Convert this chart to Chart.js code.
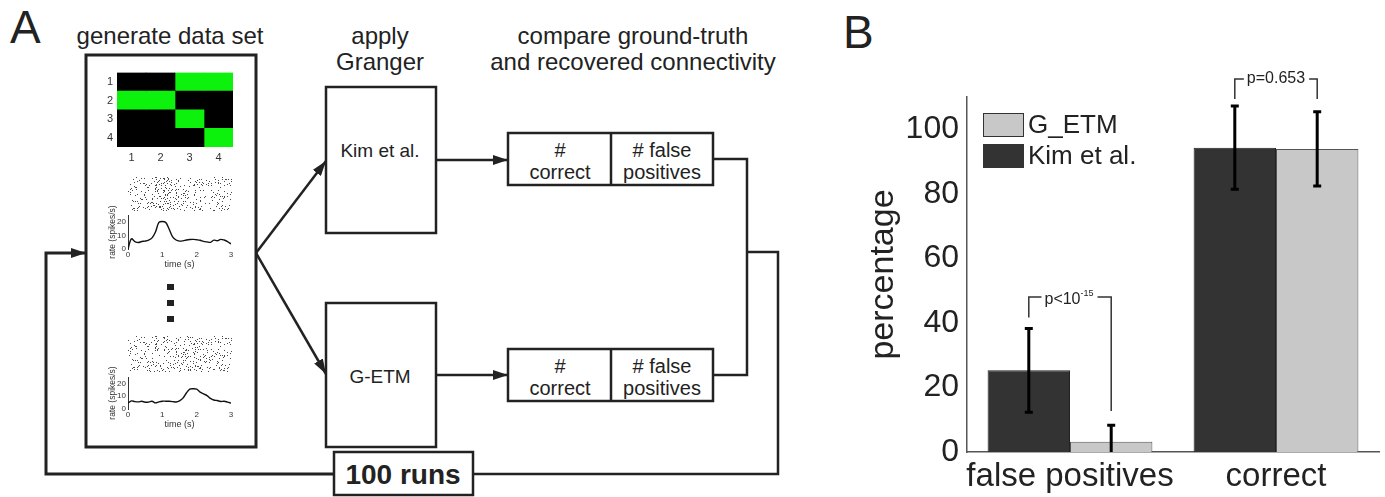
<!DOCTYPE html>
<html>
<head>
<meta charset="utf-8">
<script src="https://cdn.jsdelivr.net/npm/chart.js@4"></script>
<style>
  body { margin: 0; background: #fff; }
  #fig { position: relative; width: 1385px; height: 497px; background: #fff; overflow: hidden; font-family: "Liberation Sans", Arial, sans-serif; }
  #fig svg, #fig canvas { position: absolute; }
  .panel { position: absolute; font-size: 46px; color: #222; line-height: 1; }
</style>
</head>
<body>
<div id="fig">
  <svg width="840" height="497" viewBox="0 0 840 497" style="left:0;top:0" font-family="Liberation Sans, Arial, sans-serif" fill="#222">
    <defs>
      <marker id="ah" markerWidth="15" markerHeight="10" refX="15" refY="5" orient="auto" markerUnits="userSpaceOnUse">
        <path d="M0,0 L15,5 L0,10 z" fill="#222"/>
      </marker>
    </defs>
    <text x="10" y="43" font-size="46">A</text>
    <text x="170" y="44" font-size="24" text-anchor="middle">generate data set</text>
    <text x="380" y="44" font-size="24" text-anchor="middle">apply</text>
    <text x="380" y="70" font-size="24" text-anchor="middle">Granger</text>
    <text x="633" y="44" font-size="24" text-anchor="middle">compare ground-truth</text>
    <text x="633" y="70" font-size="24" text-anchor="middle">and recovered connectivity</text>

    <g fill="none" stroke="#222">
      <rect x="86" y="55" width="170" height="392" stroke-width="3"/>
      <rect x="326" y="87" width="110" height="146" stroke-width="2.5"/>
      <rect x="326" y="303" width="110" height="144" stroke-width="2.5"/>
      <rect x="508" y="133" width="205" height="52" stroke-width="2.5"/>
      <line x1="611" y1="133" x2="611" y2="185" stroke-width="2.5"/>
      <rect x="508" y="349" width="205" height="52" stroke-width="2.5"/>
      <line x1="611" y1="349" x2="611" y2="401" stroke-width="2.5"/>
      <line x1="256" y1="253" x2="326" y2="161" stroke-width="2.5" marker-end="url(#ah)"/>
      <line x1="256" y1="253" x2="326" y2="374" stroke-width="2.5" marker-end="url(#ah)"/>
      <line x1="436" y1="160" x2="508" y2="160" stroke-width="2.5" marker-end="url(#ah)"/>
      <line x1="436" y1="375" x2="508" y2="375" stroke-width="2.5" marker-end="url(#ah)"/>
      <polyline points="713,159 747,159 747,375 713,375" stroke-width="2.5"/>
      <polyline points="747,252 778,252 778,474 473,474" stroke-width="2.5"/>
      <polyline points="334,474 46,474 46,253 86,253" stroke-width="3" marker-end="url(#ah)"/>
      <rect x="334" y="452" width="139" height="43" stroke-width="2.5" fill="#fff"/>
    </g>
    <text x="380" y="157" font-size="19" text-anchor="middle">Kim et al.</text>
    <text x="380" y="383" font-size="19" text-anchor="middle">G-ETM</text>
    <g font-size="20" text-anchor="middle">
      <text x="560" y="157">#</text>
      <text x="560" y="179">correct</text>
      <text x="662" y="157"># false</text>
      <text x="662" y="179">positives</text>
      <text x="560" y="373">#</text>
      <text x="560" y="395">correct</text>
      <text x="662" y="373"># false</text>
      <text x="662" y="395">positives</text>
    </g>
    <text x="403" y="484" font-size="28" font-weight="bold" text-anchor="middle">100 runs</text>
    <rect x="167" y="284" width="7" height="6" fill="#222"/>
    <rect x="167" y="300" width="7" height="6" fill="#222"/>
    <rect x="167" y="316" width="7" height="6" fill="#222"/>
  </svg>

  <canvas id="matrix" width="145" height="108" style="left:98px;top:62px"></canvas>
  <canvas id="raster1" width="104" height="35" style="left:128px;top:177px"></canvas>
  <canvas id="rate1" width="140" height="75" style="left:100px;top:205px"></canvas>
  <canvas id="raster2" width="104" height="36" style="left:128px;top:336px"></canvas>
  <canvas id="rate2" width="140" height="75" style="left:100px;top:367px"></canvas>

  <div class="panel" style="left:843px;top:9px">B</div>
  <canvas id="chart" width="545" height="497" style="left:840px;top:0"></canvas>
</div>

<script>
// ---- panel B data ----
const categories = ['false positives', 'correct'];
const kimValues = [25.3, 94.3];
const getmValues = [3.2, 93.9];
const kimErr = [13.0, 12.9];
const getmErr = [5.1, 11.5];
const pctTicks = [0, 20, 40, 60, 80, 100];
// significance brackets: y of bar, bottom of left leg, bottom of right leg
const sigLabels = ['p<10', 'p=0.653'];
const sigSup = ['-15', ''];
const sigTop = [48, 115.6];
const sigLeftLeg = [41.7, 109.4];
const sigRightLeg = [12.7, 109.4];

// ---- panel A data ----
const connRows = ['1', '2', '3', '4'];
const connCols = [1, 2, 3, 4];
const connMatrix = [
  [0, 0, 1, 1],
  [1, 1, 0, 0],
  [0, 0, 1, 0],
  [0, 0, 0, 1]
];
const rateTime = [0, 0.1, 0.2, 0.3, 0.4, 0.5, 0.6, 0.7, 0.8, 0.9, 1.0, 1.1, 1.2, 1.3, 1.4, 1.5,
  1.6, 1.7, 1.8, 1.9, 2.0, 2.1, 2.2, 2.3, 2.4, 2.5, 2.6, 2.7, 2.8, 2.9, 3.0];
const rate1 = [0, 7.5, 5.5, 4.8, 5.5, 5.8, 6.5, 8.2, 12.5, 19.5, 20.2, 19.5, 14.5, 9, 6.6, 5.8,
  6, 6.6, 7, 7.1, 6.8, 6.4, 5.6, 5.2, 4.9, 6.5, 6.1, 7.1, 6.6, 5.5, 3.7];
const rate2 = [4.6, 6.3, 5.8, 5.6, 6, 5.3, 5.4, 6, 4.8, 5.6, 6.1, 6.1, 6, 5.8, 5.5, 6.4,
  8.5, 12.5, 15.5, 15.8, 15.5, 13.2, 11.8, 10.5, 8.3, 7, 6.6, 5.9, 6.1, 5.4, 4.6];
const rateTicks = [0, 10, 20];
const timeTicks = [0, 1, 2, 3];

const FONT = '"Liberation Sans", Arial, sans-serif';
Chart.defaults.font.family = FONT;
Chart.defaults.color = '#222';
Chart.defaults.animation = false;

// ---- connectivity matrix (floating horizontal bars, one per cell) ----
new Chart(document.getElementById('matrix'), {
  type: 'bar',
  data: {
    labels: connRows,
    datasets: connCols.map((c, j) => ({
      data: connRows.map(() => [c - 0.5, c + 0.5]),
      backgroundColor: connMatrix.map(row => row[j] ? '#0cf20c' : '#000'),
      borderWidth: 0,
      barPercentage: 1,
      categoryPercentage: 1,
      grouped: false
    }))
  },
  options: {
    indexAxis: 'y',
    responsive: false,
    layout: { padding: { top: 9, right: 10, left: 0, bottom: 0 } },
    plugins: { legend: { display: false }, tooltip: { enabled: false } },
    scales: {
      x: {
        type: 'linear', min: 0.5, max: 4.5,
        afterBuildTicks: s => { s.ticks = connCols.map(v => ({ value: v })); },
        ticks: { font: { size: 11 }, color: '#333', padding: 4, autoSkip: false, maxRotation: 0 },
        grid: { display: false, drawTicks: false }, border: { display: false },
        afterFit: s => { s.height = 23; }
      },
      y: {
        ticks: { font: { size: 11 }, color: '#333', padding: 4 },
        grid: { display: false, drawTicks: false }, border: { display: false },
        afterFit: s => { s.width = 19; }
      }
    }
  }
});

// ---- raster texture (spike dots), denser where the rate is higher ----
function cellHash(i, j) {
  let h = Math.imul(i + 1, 374761393) + Math.imul(j + 7, 668265263);
  h = Math.imul(h ^ (h >>> 13), 1274126177);
  h ^= h >>> 16;
  return h >>> 0;
}
function drawRaster(id, rates) {
  const cv = document.getElementById(id);
  const ctx = cv.getContext('2d');
  ctx.fillStyle = '#4a4a4a';
  const cols = Math.floor(cv.width / 2), rows = Math.floor(cv.height / 2);
  for (let i = 0; i < cols; i++) {
    const t = i / (cols - 1) * 3;
    const r = rates[Math.round(t * 10)];
    const k = Math.round(16 + r * 2.6);
    for (let j = 0; j < rows; j++) {
      const h = cellHash(i, j);
      if (h % 100 < k) {
        ctx.fillRect(i * 2 + ((h >>> 8) & 1), j * 2 + ((h >>> 9) & 1), 1, 1);
      }
    }
  }
}
drawRaster('raster1', rate1);
drawRaster('raster2', rate2);

// ---- firing-rate insets ----
function rateChart(id, values, plotH) {
  return new Chart(document.getElementById(id), {
    type: 'line',
    data: {
      datasets: [{
        data: rateTime.map((t, i) => ({ x: t, y: values[i] })),
        borderColor: '#111', borderWidth: 1.4, pointRadius: 0, tension: 0.35
      }]
    },
    options: {
      responsive: false,
      layout: { padding: { top: 10, right: 9, left: 0, bottom: 75 - 10 - plotH - 20 } },
      plugins: { legend: { display: false }, tooltip: { enabled: false } },
      scales: {
        x: {
          type: 'linear', min: 0, max: 3,
          afterBuildTicks: s => { s.ticks = timeTicks.map(v => ({ value: v })); },
          ticks: { font: { size: 8, lineHeight: 1 }, color: '#333', padding: 2, autoSkip: false, maxRotation: 0 },
          title: { display: true, text: 'time (s)', font: { size: 9, lineHeight: 1 }, color: '#333', padding: 0 },
          grid: { display: false, drawTicks: false }, border: { display: false },
          afterFit: s => { s.height = 20; }
        },
        y: {
          min: 0, max: 25,
          afterBuildTicks: s => { s.ticks = rateTicks.map(v => ({ value: v })); },
          ticks: { font: { size: 8, lineHeight: 1 }, color: '#333', padding: 2, autoSkip: false },
          title: { display: true, text: 'rate (spikes/s)', font: { size: 8.5, lineHeight: 1 }, color: '#333', padding: { top: 8, bottom: 0 } },
          grid: { display: false, drawTicks: false },
          border: { display: true, color: '#333', width: 1 },
          afterFit: s => { s.width = 28; }
        }
      }
    }
  });
}
rateChart('rate1', rate1, 34);
rateChart('rate2', rate2, 32);

// ---- panel B: error bars, brackets and legend ----
const extras = {
  id: 'extras',
  afterDatasetsDraw(chart) {
    const ctx = chart.ctx;
    const y = chart.scales.y;
    const area = chart.chartArea;
    const errs = [kimErr, getmErr];

    // error bars
    ctx.save();
    ctx.beginPath();
    ctx.rect(area.left, area.top - 2, area.right - area.left, area.bottom - area.top + 2);
    ctx.clip();
    ctx.strokeStyle = '#000';
    ctx.lineWidth = 3;
    chart.data.datasets.forEach((ds, d) => {
      chart.getDatasetMeta(d).data.forEach((bar, i) => {
        const v = ds.data[i], e = errs[d][i];
        const yHi = y.getPixelForValue(v + e), yLo = y.getPixelForValue(v - e);
        ctx.beginPath();
        ctx.moveTo(bar.x, yHi); ctx.lineTo(bar.x, yLo);
        ctx.moveTo(bar.x - 4, yHi); ctx.lineTo(bar.x + 4, yHi);
        ctx.moveTo(bar.x - 4, yLo); ctx.lineTo(bar.x + 4, yLo);
        ctx.stroke();
      });
    });
    ctx.restore();

    // significance brackets
    ctx.save();
    ctx.strokeStyle = '#333';
    ctx.fillStyle = '#222';
    ctx.lineWidth = 1.5;
    ctx.textBaseline = 'middle';
    categories.forEach((c, i) => {
      const xl = chart.getDatasetMeta(0).data[i].x;
      const xr = chart.getDatasetMeta(1).data[i].x;
      const yt = y.getPixelForValue(sigTop[i]);
      ctx.font = '16px ' + FONT;
      const w1 = ctx.measureText(sigLabels[i]).width;
      ctx.font = '9px ' + FONT;
      const w2 = sigSup[i] ? ctx.measureText(sigSup[i]).width : 0;
      const tw = w1 + w2;
      const xm = (xl + xr) / 2 + (sigSup[i] ? -1 : 0);
      const tx = xm - tw / 2;
      ctx.beginPath();
      ctx.moveTo(xl, y.getPixelForValue(sigLeftLeg[i]));
      ctx.lineTo(xl, yt);
      ctx.lineTo(tx - 3, yt);
      ctx.moveTo(tx + tw + 4, yt);
      ctx.lineTo(xr, yt);
      ctx.lineTo(xr, y.getPixelForValue(sigRightLeg[i]));
      ctx.stroke();
      ctx.font = '16px ' + FONT;
      ctx.textAlign = 'left';
      ctx.fillText(sigLabels[i], tx, yt + (sigSup[i] ? 3 : 0));
      if (sigSup[i]) {
        ctx.font = '9px ' + FONT;
        ctx.fillText(sigSup[i], tx + w1, yt - 4);
      }
    });
    ctx.restore();

    // legend (reverse dataset order, as in the figure)
    ctx.save();
    ctx.font = '26px ' + FONT;
    ctx.textBaseline = 'middle';
    ctx.textAlign = 'left';
    const order = chart.data.datasets.map((d, k) => k).reverse();
    order.forEach((k, row) => {
      const ds = chart.data.datasets[k];
      const bx = 143, by = 113 + row * 31;
      ctx.fillStyle = ds.backgroundColor;
      ctx.fillRect(bx, by, 41, 24);
      ctx.strokeStyle = '#333';
      ctx.lineWidth = 1;
      ctx.strokeRect(bx + 0.5, by + 0.5, 40, 23);
      ctx.fillStyle = '#222';
      ctx.fillText(ds.label, bx + 45, by + 13);
    });
    ctx.restore();
  }
};

new Chart(document.getElementById('chart'), {
  type: 'bar',
  data: {
    labels: categories,
    datasets: [
      { label: 'Kim et al.', data: kimValues, backgroundColor: '#333333', borderColor: '#222', borderWidth: 1 },
      { label: 'G_ETM', data: getmValues, backgroundColor: '#c8c8c8', borderColor: '#555', borderWidth: 1 }
    ]
  },
  options: {
    responsive: false,
    categoryPercentage: 0.8,
    barPercentage: 1,
    layout: { padding: { top: 97, right: 6, left: 0, bottom: 0 } },
    plugins: { legend: { display: false }, tooltip: { enabled: false } },
    scales: {
      x: {
        ticks: { font: { size: 33 }, color: '#222', padding: 5, autoSkip: false, maxRotation: 0, minRotation: 0 },
        grid: { display: false, drawTicks: false },
        border: { display: true, color: '#555', width: 1.5 },
        afterFit: s => { s.height = 45; }
      },
      y: {
        min: 0, max: 110,
        afterBuildTicks: s => { s.ticks = pctTicks.map(v => ({ value: v })); },
        ticks: { font: { size: 32 }, color: '#222', padding: 8, autoSkip: false },
        title: { display: true, text: 'percentage', font: { size: 34 }, color: '#222', padding: { top: 23, bottom: 0 } },
        grid: { display: false, drawTicks: false },
        border: { display: true, color: '#555', width: 1.5 },
        afterFit: s => { s.width = 127; }
      }
    }
  },
  plugins: [extras]
});
</script>
</body>
</html>
